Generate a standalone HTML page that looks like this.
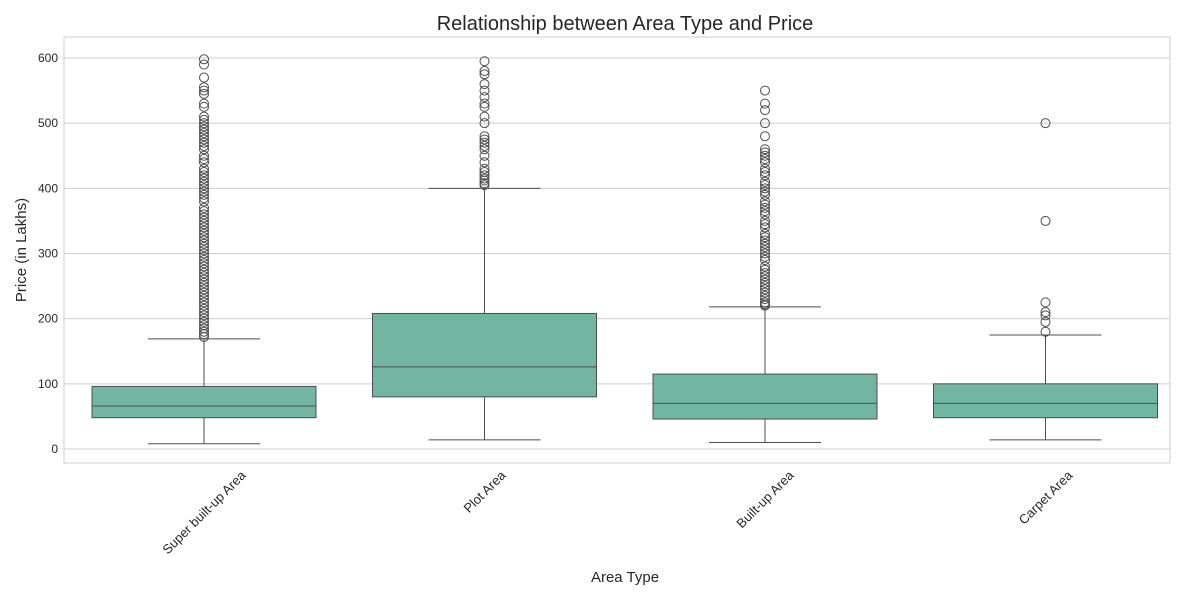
<!DOCTYPE html>
<html><head><meta charset="utf-8"><style>
body{margin:0;background:#fff;font-family:"Liberation Sans",sans-serif}
</style></head><body>
<svg id="chart" width="1200" height="600" xmlns="http://www.w3.org/2000/svg">
<rect width="1200" height="600" fill="#fff"/>
<text x="625" y="30" text-anchor="middle" font-size="20" fill="#262626">Relationship between Area Type and Price</text>
<text x="625" y="582" text-anchor="middle" font-size="15" fill="#262626">Area Type</text>
<text transform="translate(26,250) rotate(-90)" text-anchor="middle" font-size="15" fill="#262626">Price (in Lakhs)</text>
<g id="grid"></g><g id="marks"></g><g id="axes"></g>
<rect x="64" y="37" width="1106" height="426" fill="none" stroke="#cccccc" stroke-width="1"/>
</svg>
<script>
const categories=["Super built-up Area","Plot Area","Built-up Area","Carpet Area"];
const q1=[48,80,46,48];
const medians=[66,126,70,70];
const q3=[96,208,115,100];
const whiskLo=[8,14,10,14];
const whiskHi=[169,400,218,175];
const outliers=[
[172,176,180,185,190,195,200,205,210,215,220,225,230,235,240,245,250,255,260,265,270,275,280,285,290,295,300,305,310,315,320,325,330,335,340,345,350,355,360,365,370,380,385,390,395,400,405,410,415,420,425,430,440,445,450,460,465,470,475,480,485,490,495,500,505,510,525,530,545,550,555,570,590,598],
[405,408,412,415,420,425,430,440,450,460,465,470,475,480,500,510,525,530,540,550,560,575,580,595],
[220,222,225,230,235,240,245,250,255,260,265,270,275,280,290,295,300,305,310,315,320,325,330,340,345,350,360,365,370,375,380,390,395,400,405,410,420,425,430,440,445,450,455,460,480,500,520,530,550],
[180,195,205,210,225,350,500]];
const yTicks=[0,100,200,300,400,500,600];
const NS="http://www.w3.org/2000/svg";
const y=v=>449-v*391/600;
const x=i=>204+i*280.5;
function mk(p,t,a){const e=document.createElementNS(NS,t);for(const k in a)e.setAttribute(k,a[k]);document.getElementById(p).appendChild(e);return e;}
yTicks.forEach(t=>{
 const g=mk("grid","line",{x1:64,x2:1170,y1:y(t),y2:y(t),stroke:"#cccccc","stroke-width":1});
 
 
 const l=mk("axes","text",{x:58,y:y(t)+4,"text-anchor":"end","font-size":12,fill:"#262626"});
 l.textContent=t;
 
 
});
categories.forEach((c,i)=>{
 const cx=x(i),hw=112,cw=56,col="#4d4d4d";
 const w1=mk("marks","line",{x1:cx,x2:cx,y1:y(whiskLo[i]),y2:y(q1[i]),stroke:col});
 
 
 const w2=mk("marks","line",{x1:cx,x2:cx,y1:y(q3[i]),y2:y(whiskHi[i]),stroke:col});
 
 
 [whiskLo[i],whiskHi[i]].forEach(v=>{const cap=mk("marks","line",{x1:cx-cw,x2:cx+cw,y1:y(v),y2:y(v),stroke:col});
 
 });
 const b=mk("marks","rect",{x:cx-hw,y:y(q3[i]),width:hw*2,height:y(q1[i])-y(q3[i]),fill:"#72b6a1",stroke:col});
 
 
 const m=mk("marks","line",{x1:cx-hw,x2:cx+hw,y1:y(medians[i]),y2:y(medians[i]),stroke:col});
 
 
 outliers[i].forEach(v=>{const o=mk("marks","circle",{cx:cx,cy:y(v),r:4.5,fill:"none",stroke:col});
 
 });
 const t=mk("axes","text",{"text-anchor":"middle","dominant-baseline":"central","font-size":13,fill:"#262626"});
 t.textContent=c;
 
 
 const L=t.getComputedTextLength();
 const cy=468+L*0.7071/2+5;
 t.setAttribute('transform',`translate(${cx},${cy}) rotate(-45)`);
});
</script>
</body></html>
